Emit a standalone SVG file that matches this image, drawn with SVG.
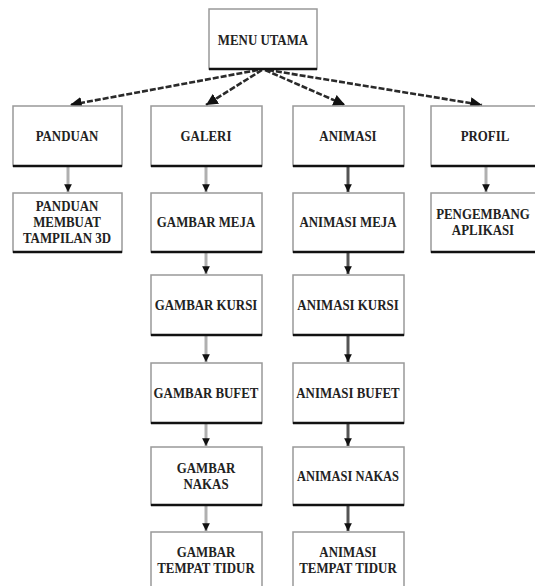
<svg xmlns="http://www.w3.org/2000/svg" width="535" height="586" viewBox="0 0 535 586">
<defs>
<style>
.box{fill:#fff;stroke:#999;stroke-width:1.5}
.base{stroke:#111;stroke-width:2.5}
.t{font-family:"Liberation Serif","Times New Roman",serif;font-weight:bold;font-size:15px;fill:#222;text-anchor:middle}
.dash{fill:none;stroke:#2a2a2a;stroke-width:2.6;stroke-dasharray:6 2}
.vg{stroke:#b0b0b0;stroke-width:3}
.vd{stroke:#555;stroke-width:3}
</style>
<marker id="ah" viewBox="0 0 10 10" refX="10" refY="5" markerWidth="4.5" markerHeight="4.5" markerUnits="strokeWidth" orient="auto">
<path d="M0,0 L10,5 L0,10 z" fill="#111"/>
</marker>
<marker id="av" viewBox="0 0 10 10" refX="10" refY="5" markerWidth="2.6" markerHeight="2.6" markerUnits="strokeWidth" orient="auto">
<path d="M0,0 L10,5 L0,10 z" fill="#111"/>
</marker>
</defs>
<rect width="535" height="586" fill="#fff"/>
<g id="connectors">
<path class="dash" d="M258,70 L70,105" marker-end="url(#ah)"/>
<path class="dash" d="M262,70 L206,105" marker-end="url(#ah)"/>
<path class="dash" d="M265,70 L345,105" marker-end="url(#ah)"/>
<path class="dash" d="M268,70 L482,105" marker-end="url(#ah)"/>
<line class="vg" x1="68" y1="167" x2="68" y2="192" marker-end="url(#av)"/>
<line class="vg" x1="206" y1="167" x2="206" y2="192" marker-end="url(#av)"/>
<line class="vd" x1="348" y1="167" x2="348" y2="192" marker-end="url(#av)"/>
<line class="vg" x1="486" y1="167" x2="486" y2="192" marker-end="url(#av)"/>
<line class="vg" x1="206" y1="253" x2="206" y2="274" marker-end="url(#av)"/>
<line class="vd" x1="348" y1="253" x2="348" y2="274" marker-end="url(#av)"/>
<line class="vg" x1="206" y1="336" x2="206" y2="362" marker-end="url(#av)"/>
<line class="vd" x1="348" y1="336" x2="348" y2="362" marker-end="url(#av)"/>
<line class="vg" x1="206" y1="424" x2="206" y2="446" marker-end="url(#av)"/>
<line class="vd" x1="348" y1="424" x2="348" y2="446" marker-end="url(#av)"/>
<line class="vg" x1="206" y1="506" x2="206" y2="531" marker-end="url(#av)"/>
<line class="vd" x1="348" y1="506" x2="348" y2="531" marker-end="url(#av)"/>
</g>
<g id="menu-utama"><rect class="box" x="209" y="9" width="108" height="60"/><line class="base" x1="209" y1="69" x2="317" y2="69"/><text class="t" transform="matrix(0.86 0 0 1 263 45)">MENU UTAMA</text></g>
<g id="panduan"><rect class="box" x="13" y="106" width="109" height="60"/><line class="base" x1="13" y1="166" x2="122" y2="166"/><text class="t" transform="matrix(0.86 0 0 1 67 141)">PANDUAN</text></g>
<g id="galeri"><rect class="box" x="151" y="106" width="111" height="60"/><line class="base" x1="151" y1="166" x2="262" y2="166"/><text class="t" transform="matrix(0.86 0 0 1 206 141)">GALERI</text></g>
<g id="animasi"><rect class="box" x="293" y="106" width="111" height="60"/><line class="base" x1="293" y1="166" x2="404" y2="166"/><text class="t" transform="matrix(0.86 0 0 1 348 141)">ANIMASI</text></g>
<g id="profil"><rect class="box" x="431" y="106" width="110" height="60"/><line class="base" x1="431" y1="166" x2="541" y2="166"/><text class="t" transform="matrix(0.86 0 0 1 485 141)">PROFIL</text></g>
<g id="panduan-membuat"><rect class="box" x="13" y="193" width="109" height="59"/><line class="base" x1="13" y1="252" x2="122" y2="252"/><text class="t" transform="matrix(0.86 0 0 1 67 211)">PANDUAN</text><text class="t" transform="matrix(0.86 0 0 1 67 227)">MEMBUAT</text><text class="t" transform="matrix(0.86 0 0 1 67 243)">TAMPILAN 3D</text></g>
<g id="gambar-meja"><rect class="box" x="151" y="193" width="111" height="59"/><line class="base" x1="151" y1="252" x2="262" y2="252"/><text class="t" transform="matrix(0.86 0 0 1 206 227)">GAMBAR MEJA</text></g>
<g id="animasi-meja"><rect class="box" x="293" y="193" width="111" height="59"/><line class="base" x1="293" y1="252" x2="404" y2="252"/><text class="t" transform="matrix(0.86 0 0 1 348 227)">ANIMASI MEJA</text></g>
<g id="pengembang"><rect class="box" x="431" y="193" width="110" height="59"/><line class="base" x1="431" y1="252" x2="541" y2="252"/><text class="t" transform="matrix(0.86 0 0 1 483 219)">PENGEMBANG</text><text class="t" transform="matrix(0.86 0 0 1 483 235)">APLIKASI</text></g>
<g id="gambar-kursi"><rect class="box" x="151" y="275" width="111" height="60"/><line class="base" x1="151" y1="335" x2="262" y2="335"/><text class="t" transform="matrix(0.86 0 0 1 206 310)">GAMBAR KURSI</text></g>
<g id="animasi-kursi"><rect class="box" x="293" y="275" width="111" height="60"/><line class="base" x1="293" y1="335" x2="404" y2="335"/><text class="t" transform="matrix(0.86 0 0 1 348 310)">ANIMASI KURSI</text></g>
<g id="gambar-bufet"><rect class="box" x="151" y="363" width="111" height="60"/><line class="base" x1="151" y1="423" x2="262" y2="423"/><text class="t" transform="matrix(0.86 0 0 1 206 398)">GAMBAR BUFET</text></g>
<g id="animasi-bufet"><rect class="box" x="293" y="363" width="111" height="60"/><line class="base" x1="293" y1="423" x2="404" y2="423"/><text class="t" transform="matrix(0.86 0 0 1 348 398)">ANIMASI BUFET</text></g>
<g id="gambar-nakas"><rect class="box" x="151" y="447" width="111" height="58"/><line class="base" x1="151" y1="505" x2="262" y2="505"/><text class="t" transform="matrix(0.86 0 0 1 206 473)">GAMBAR</text><text class="t" transform="matrix(0.86 0 0 1 206 489)">NAKAS</text></g>
<g id="animasi-nakas"><rect class="box" x="293" y="447" width="111" height="58"/><line class="base" x1="293" y1="505" x2="404" y2="505"/><text class="t" transform="matrix(0.83 0 0 1 348 481)">ANIMASI NAKAS</text></g>
<g id="gambar-tempat-tidur"><rect class="box" x="151" y="532" width="111" height="60"/><text class="t" transform="matrix(0.86 0 0 1 206 557)">GAMBAR</text><text class="t" transform="matrix(0.86 0 0 1 206 573)">TEMPAT TIDUR</text></g>
<g id="animasi-tempat-tidur"><rect class="box" x="293" y="532" width="111" height="60"/><text class="t" transform="matrix(0.86 0 0 1 348 557)">ANIMASI</text><text class="t" transform="matrix(0.86 0 0 1 348 573)">TEMPAT TIDUR</text></g>
</svg>
